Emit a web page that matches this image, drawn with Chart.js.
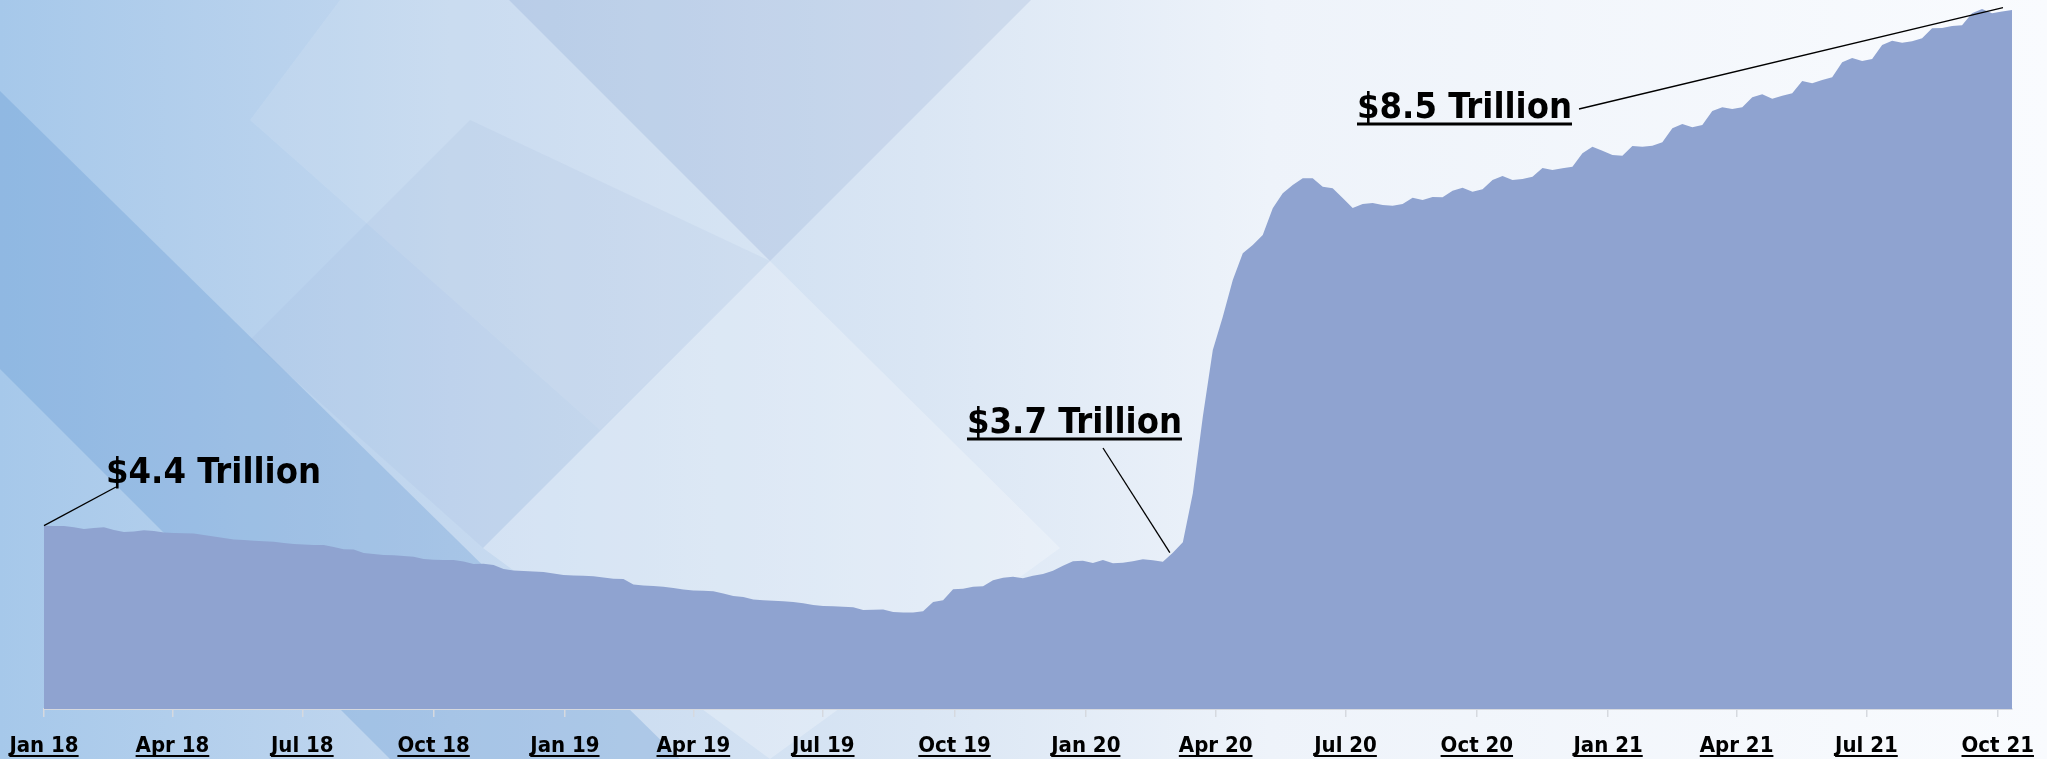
<!DOCTYPE html>
<html><head><meta charset="utf-8">
<script src="https://cdn.jsdelivr.net/npm/chart.js@4/dist/chart.umd.min.js"></script>
<style>html,body{margin:0;padding:0;background:#fff;overflow:hidden}#wrap{width:2047px;height:759px}</style>
</head><body><div id="wrap"><canvas id="c" width="2047" height="759"></canvas></div>
<script>
// ---- data (Federal Reserve total assets, $ trillions, weekly) ----
const startDate = '2018-01-01';
const weekStepDays = 7;
const values2018 = [4.433,4.430,4.430,4.420,4.406,4.414,4.420,4.398,4.382,4.386,4.396,4.390,4.378,4.374,4.372,4.370,4.359,4.347,4.335,4.323,4.319,4.312,4.308,4.304,4.295,4.287,4.283,4.279,4.279,4.263,4.245,4.243,4.215,4.207,4.199,4.197,4.191,4.186,4.167,4.162,4.159,4.159,4.147,4.127,4.129,4.120,4.088,4.076,4.072,4.068,4.064,4.052];
const values2019 = [4.040,4.036,4.034,4.030,4.020,4.010,4.008,3.964,3.956,3.952,3.946,3.936,3.924,3.916,3.914,3.911,3.892,3.872,3.865,3.845,3.838,3.834,3.830,3.825,3.815,3.801,3.793,3.790,3.787,3.782,3.761,3.763,3.764,3.745,3.740,3.740,3.750,3.825,3.838,3.926,3.931,3.947,3.950,3.998,4.018,4.026,4.014,4.034,4.048,4.074,4.114,4.149];
const values2020 = [4.154,4.135,4.159,4.133,4.138,4.149,4.165,4.157,4.146,4.218,4.300,4.691,5.301,5.833,6.098,6.390,6.603,6.669,6.749,6.962,7.081,7.147,7.201,7.201,7.134,7.121,7.044,6.964,6.996,7.004,6.988,6.983,6.996,7.046,7.028,7.052,7.049,7.102,7.126,7.094,7.113,7.187,7.219,7.187,7.195,7.214,7.283,7.267,7.281,7.293,7.400,7.453];
const values2021 = [7.421,7.386,7.381,7.458,7.453,7.461,7.488,7.599,7.633,7.607,7.625,7.737,7.766,7.753,7.766,7.846,7.870,7.835,7.859,7.878,7.976,7.958,7.984,8.006,8.125,8.159,8.135,8.151,8.263,8.297,8.281,8.292,8.316,8.396,8.398,8.414,8.420,8.516,8.550,8.516,8.529,8.542];
const tickDates = ['2018-01-01','2018-04-01','2018-07-01','2018-10-01','2019-01-01','2019-04-01','2019-07-01','2019-10-01','2020-01-01','2020-04-01','2020-07-01','2020-10-01','2021-01-01','2021-04-01','2021-07-01','2021-10-01'];
const tickLabels = ['Jan 18','Apr 18','Jul 18','Oct 18','Jan 19','Apr 19','Jul 19','Oct 19','Jan 20','Apr 20','Jul 20','Oct 20','Jan 21','Apr 21','Jul 21','Oct 21'];
const annotationTexts = ['$4.4 Trillion','$3.7 Trillion','$8.5 Trillion'];

// ---- derived ----
const values = [].concat(values2018, values2019, values2020, values2021);
const DAY = 86400000;
const t0 = Date.parse(startDate + 'T00:00:00Z');
const points = values.map((v, i) => ({ x: i * weekStepDays, y: v }));
const tickDays = tickDates.map(d => Math.round((Date.parse(d + 'T00:00:00Z') - t0) / DAY));

const TICK_FONT = { family: '"DejaVu Sans Condensed", "DejaVu Sans", sans-serif', weight: 'bold', size: 22 };
const ANNO_FONT = 'bold 36px "DejaVu Sans Condensed", "DejaVu Sans", sans-serif';

const bgPlugin = {
  id: 'bg',
  beforeDraw(chart) {
    const { ctx, width, height } = chart;
    ctx.save();
    const g = ctx.createLinearGradient(0, 0, width, 0);
    g.addColorStop(0, '#a6c8ea');
    g.addColorStop(0.22, '#c4d8ef');
    g.addColorStop(0.45, '#dae6f4');
    g.addColorStop(0.62, '#eef3fa');
    g.addColorStop(1, '#f9fbfe');
    ctx.fillStyle = g;
    ctx.fillRect(0, 0, width, height);
    const poly = (pts, color) => {
      ctx.beginPath();
      ctx.moveTo(pts[0][0], pts[0][1]);
      for (let k = 1; k < pts.length; k++) ctx.lineTo(pts[k][0], pts[k][1]);
      ctx.closePath();
      ctx.fillStyle = color;
      ctx.fill();
    };
    poly([[0, 91], [680, 759], [390, 759], [0, 369]], 'rgba(80,140,205,0.26)');
    poly([[509, 0], [1031, 0], [770, 261]], 'rgba(120,150,200,0.18)');
    poly([[340, 0], [509, 0], [770, 261], [600, 430], [250, 120]], 'rgba(255,255,255,0.10)');
    poly([[770, 261], [1060, 548], [770, 759], [483, 548]], 'rgba(255,255,255,0.25)');
    poly([[250, 340], [470, 120], [770, 261], [483, 548]], 'rgba(150,175,215,0.12)');
    ctx.restore();
  }
};

const decoPlugin = {
  id: 'deco',
  afterDraw(chart) {
    const { ctx } = chart;
    const xs = chart.scales.x, ys = chart.scales.y;
    ctx.save();
    // underline tick labels
    ctx.font = `${TICK_FONT.weight} ${TICK_FONT.size}px ${TICK_FONT.family}`;
    ctx.fillStyle = '#000';
    tickDays.forEach((d, i) => {
      const w = ctx.measureText(tickLabels[i]).width;
      const px = xs.getPixelForValue(d);
      ctx.fillRect(px - w / 2, xs.top + 46, w, 2);
    });
    // annotations
    ctx.font = ANNO_FONT;
    ctx.textBaseline = 'alphabetic';
    ctx.textAlign = 'left';
    const items = [
      { t: annotationTexts[0], x: 106, y: 483, ul: false, from: [116, 487], to: [xs.getPixelForValue(points[0].x), ys.getPixelForValue(points[0].y)] },
      { t: annotationTexts[1], x: 967, y: 433, ul: true, from: [1103, 448], to: [xs.getPixelForValue(points[113].x) - 3, ys.getPixelForValue(points[113].y)] },
      { t: annotationTexts[2], x: 1357, y: 118, ul: true, from: [1579, 109], to: [xs.getPixelForValue(points[196].x) + 1, ys.getPixelForValue(points[196].y) - 4] }
    ];
    items.forEach(a => {
      ctx.fillText(a.t, a.x, a.y);
      if (a.ul) {
        const w = ctx.measureText(a.t).width;
        ctx.fillRect(a.x, a.y + 4.5, w, 3);
      }
      ctx.lineWidth = 1.3;
      ctx.strokeStyle = '#000';
      ctx.beginPath(); ctx.moveTo(a.from[0], a.from[1]); ctx.lineTo(a.to[0], a.to[1]); ctx.stroke();
    });
    ctx.restore();
  }
};

new Chart(document.getElementById('c'), {
  type: 'line',
  data: {
    datasets: [{
      data: points,
      fill: 'start',
      backgroundColor: '#8fa3d0',
      borderWidth: 0,
      borderColor: 'rgba(0,0,0,0)',
      pointRadius: 0,
      tension: 0
    }]
  },
  options: {
    responsive: false,
    animation: false,
    devicePixelRatio: 1,
    layout: { padding: { left: 44, right: 35, top: 0, bottom: 0 } },
    plugins: { legend: { display: false }, tooltip: { enabled: false } },
    scales: {
      x: {
        type: 'linear',
        min: 0,
        max: (values.length - 1) * weekStepDays,
        afterBuildTicks(scale) { scale.ticks = tickDays.map(v => ({ value: v })); },
        afterFit(scale) { scale.height = 50; scale.paddingLeft = 0; scale.paddingRight = 0; },
        grid: { display: true, drawOnChartArea: false, drawTicks: true, tickLength: 8, color: '#d6d9df', lineWidth: 1.5 },
        border: { display: true, color: '#d6d9df', width: 2 },
        ticks: {
          autoSkip: false, maxRotation: 0, minRotation: 0, padding: 16,
          color: '#000', font: TICK_FONT,
          callback: (val, idx) => tickLabels[idx]
        }
      },
      y: {
        display: false,
        min: 2.972,
        max: 8.6215
      }
    }
  },
  plugins: [bgPlugin, decoPlugin]
});
</script>
</body></html>
